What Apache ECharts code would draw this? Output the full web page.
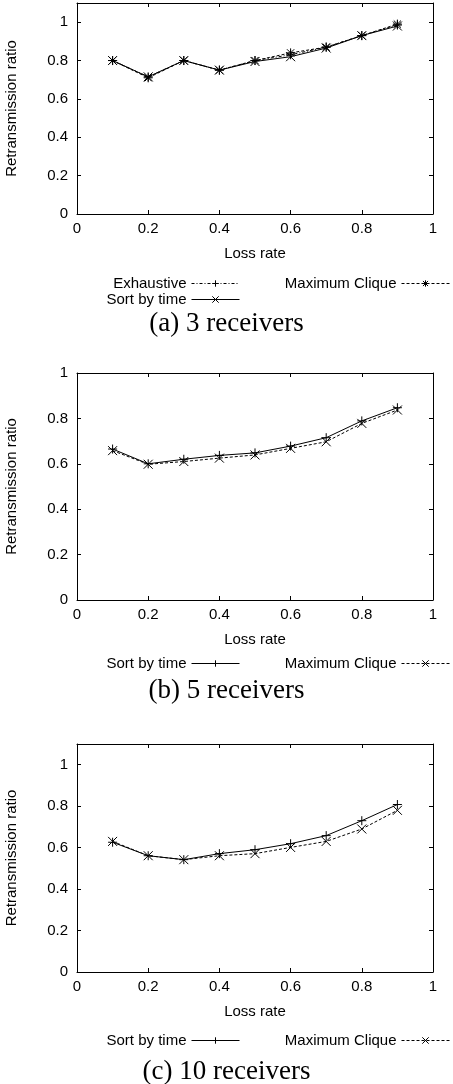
<!DOCTYPE html>
<html>
<head>
<meta charset="utf-8">
<script src="https://cdn.jsdelivr.net/npm/echarts@6/dist/echarts.min.js"></script>
<style>
html,body{margin:0;padding:0;background:#fff;}
.p{position:absolute;left:0;width:453px;}
</style>
</head>
<body>
<div id="c1" class="p" style="top:0;height:345px;"></div>
<div id="c2" class="p" style="top:345px;height:360px;"></div>
<div id="c3" class="p" style="top:705px;height:379px;"></div>
<script>
// ---- data ----
const lossRate = [0.1, 0.2, 0.3, 0.4, 0.5, 0.6, 0.7, 0.8, 0.9];
const xTicks = [0, 0.2, 0.4, 0.6, 0.8, 1];
const yTicks = [0, 0.2, 0.4, 0.6, 0.8, 1];

const exhaustive3   = [0.80, 0.715, 0.80, 0.75, 0.80, 0.83, 0.87, 0.93, 0.985];
const sortByTime3   = [0.80, 0.715, 0.80, 0.75, 0.795, 0.82, 0.865, 0.93, 0.98];
const maxClique3    = [0.80, 0.71, 0.80, 0.75, 0.80, 0.84, 0.87, 0.93, 0.99];

const sortByTime5   = [0.665, 0.60, 0.62, 0.637, 0.648, 0.678, 0.715, 0.789, 0.847];
const maxClique5    = [0.658, 0.598, 0.61, 0.625, 0.639, 0.668, 0.697, 0.778, 0.837];

const sortByTime10  = [0.626, 0.561, 0.542, 0.571, 0.59, 0.619, 0.658, 0.73, 0.808];
const maxClique10   = [0.63, 0.561, 0.542, 0.561, 0.571, 0.601, 0.63, 0.69, 0.78];

const captions = ['(a) 3 receivers', '(b) 5 receivers', '(c) 10 receivers'];

// ---- styles ----
const SANS = 'Liberation Sans, Arial, Helvetica, sans-serif';
const SERIF = 'Liberation Serif, Times New Roman, serif';
const PLUS = 'path://M0,5L10,5M5,0L5,10';
const CROSS = 'path://M0,0L10,10M10,0L0,10';
const STAR = 'path://M0,5L10,5M5,0L5,10M1,1L9,9M9,1L1,9';

function pts(arr) { return lossRate.map((x, i) => [x, arr[i]]); }

function mkSeries(name, arr, symbol, dash) {
  return {
    name: name, type: 'line', data: pts(arr),
    xAxisIndex: 0, yAxisIndex: 0,
    symbol: symbol, symbolSize: 9, showSymbol: true,
    lineStyle: {color: '#000', width: 1, type: dash},
    itemStyle: {color: '#000', borderColor: '#000', borderWidth: 1},
    emphasis: {disabled: true},
    animation: false
  };
}

function mkLegend(name, right, top) {
  return {
    data: [name], align: 'right', right: right, top: top, padding: 0,
    itemWidth: 48, itemHeight: 8, itemGap: 0, selectedMode: false,
    lineStyle: {width: 1},
    itemStyle: {borderWidth: 1},
    textStyle: {color: '#000', fontFamily: SANS, fontSize: 15}
  };
}

function mkOption(p) {
  const tickStyle = {show: true, inside: true, length: 4, lineStyle: {color: '#000', width: 1}};
  const lineAx = {show: true, onZero: false, lineStyle: {color: '#000', width: 1}};
  return {
    animation: false,
    backgroundColor: '#fff',
    title: {
      text: p.caption, left: 'center', top: p.capTop, padding: 0,
      textStyle: {fontFamily: SERIF, fontSize: 27, fontWeight: 'normal', color: '#000'}
    },
    legend: p.legends,
    grid: {left: 77, right: 20, top: p.gridTop, height: p.gridH, containLabel: false, outerBoundsMode: 'none'},
    xAxis: [
      {type: 'value', min: 0, max: 1, interval: 0.2, position: 'bottom',
       name: 'Loss rate', nameLocation: 'middle', nameGap: 32,
       nameTextStyle: {fontFamily: SANS, fontSize: 15, color: '#000'},
       axisLine: lineAx, axisTick: tickStyle, splitLine: {show: false},
       axisLabel: {fontFamily: SANS, fontSize: 15, color: '#000', margin: 7,
                   formatter: v => String(xTicks.find(t => Math.abs(t - v) < 1e-9) ?? v)}},
      {type: 'value', min: 0, max: 1, interval: 0.2, position: 'top',
       axisLine: lineAx, axisTick: tickStyle, axisLabel: {show: false}, splitLine: {show: false}}
    ],
    yAxis: [
      {type: 'value', min: 0, max: p.yMax, interval: 0.2, position: 'left',
       name: 'Retransmission ratio', nameLocation: 'middle', nameGap: 58,
       nameTextStyle: {fontFamily: SANS, fontSize: 15, color: '#000'},
       axisLine: lineAx, axisTick: tickStyle, splitLine: {show: false},
       axisLabel: {fontFamily: SANS, fontSize: 15, color: '#000', margin: 9,
                   formatter: v => { const t = yTicks.find(t => Math.abs(t - v) < 1e-9); return t === undefined ? '' : String(t); }}},
      {type: 'value', min: 0, max: p.yMax, interval: 0.2, position: 'right',
       axisLine: lineAx, axisTick: tickStyle, axisLabel: {show: false}, splitLine: {show: false}}
    ],
    series: p.series
  };
}

const charts = ['c1', 'c2', 'c3'].map(id => echarts.init(document.getElementById(id), null, {renderer: 'canvas'}));

charts[0].setOption(mkOption({
  caption: captions[0], capTop: 310, gridTop: 3, gridH: 211, yMax: 1.1,
  legends: [
    mkLegend('Exhaustive', 213, 276),
    mkLegend('Sort by time', 213, 292),
    mkLegend('Maximum Clique', 3, 276)
  ],
  series: [
    mkSeries('Exhaustive', exhaustive3, PLUS, [3, 2, 1, 2]),
    mkSeries('Sort by time', sortByTime3, CROSS, 'solid'),
    mkSeries('Maximum Clique', maxClique3, STAR, [3, 2])
  ]
}));

charts[1].setOption(mkOption({
  caption: captions[1], capTop: 332, gridTop: 28, gridH: 227, yMax: 1,
  legends: [
    mkLegend('Sort by time', 213, 311),
    mkLegend('Maximum Clique', 3, 311)
  ],
  series: [
    mkSeries('Sort by time', sortByTime5, PLUS, 'solid'),
    mkSeries('Maximum Clique', maxClique5, CROSS, [3, 2])
  ]
}));

charts[2].setOption(mkOption({
  caption: captions[2], capTop: 353, gridTop: 39, gridH: 228, yMax: 1.1,
  legends: [
    mkLegend('Sort by time', 213, 328),
    mkLegend('Maximum Clique', 3, 328)
  ],
  series: [
    mkSeries('Sort by time', sortByTime10, PLUS, 'solid'),
    mkSeries('Maximum Clique', maxClique10, CROSS, [3, 2])
  ]
}));
</script>
</body>
</html>
